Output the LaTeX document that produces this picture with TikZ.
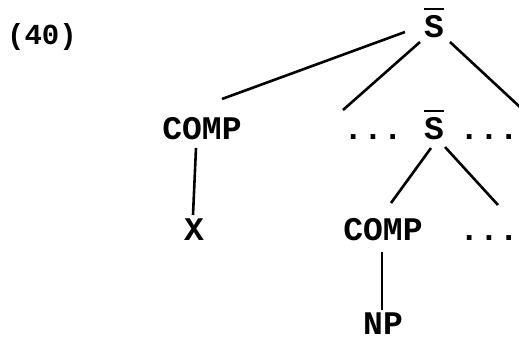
\documentclass[tikz,border=0pt]{standalone}
\usepackage{fontspec}
\setmainfont{Liberation Mono}
\newcommand\ovS{\vbox{\hrule height 2pt\kern 5pt\hbox{S}}}
\begin{document}
\begin{tikzpicture}[x=1pt,y=-1pt,
  lab/.style={inner sep=0pt,anchor=base,font=\fontsize{33}{36}\selectfont\bfseries},
  branch/.style={line width=2.6pt}]
\useasboundingbox (0,0) rectangle (519,340);
\clip (0,0) rectangle (519,340);
% labels
\node[lab,font=\fontsize{29}{32}\selectfont\bfseries] (num) at (42,44) {(40)};
\node[lab] (top) at (434,37) {\ovS};
\node[lab] (compa) at (202,139) {COMP};
\node[lab] (dotsl) at (373,139) {...};
\node[lab] (mid) at (434,139) {\ovS};
\node[lab] (dotsr) at (489,139) {...};
\node[lab] (x) at (194,240) {X};
\node[lab] (compb) at (383,240) {COMP};
\node[lab] (dotsb) at (489,240) {...};
\node[lab] (np) at (383,334) {NP};
% connector end points
\coordinate (t1) at (405,32);  \coordinate (c1) at (222,99);
\coordinate (t2) at (420,42);  \coordinate (d1) at (343,110);
\coordinate (t3) at (450,42);  \coordinate (d2) at (535,121);
\coordinate (ca) at (196,148); \coordinate (xa) at (193,215);
\coordinate (m1) at (431,148); \coordinate (cb) at (391,203);
\coordinate (m2) at (445,147); \coordinate (db) at (498,205);
\coordinate (cc) at (382,252); \coordinate (na) at (382,310);
% connectors
\draw[branch] (t1) -- (c1);
\draw[branch] (t2) -- (d1);
\draw[branch] (t3) -- (d2);
\draw[branch] (ca) -- (xa);
\draw[branch] (m1) -- (cb);
\draw[branch] (m2) -- (db);
\draw[branch] (cc) -- (na);
\end{tikzpicture}
\end{document}
